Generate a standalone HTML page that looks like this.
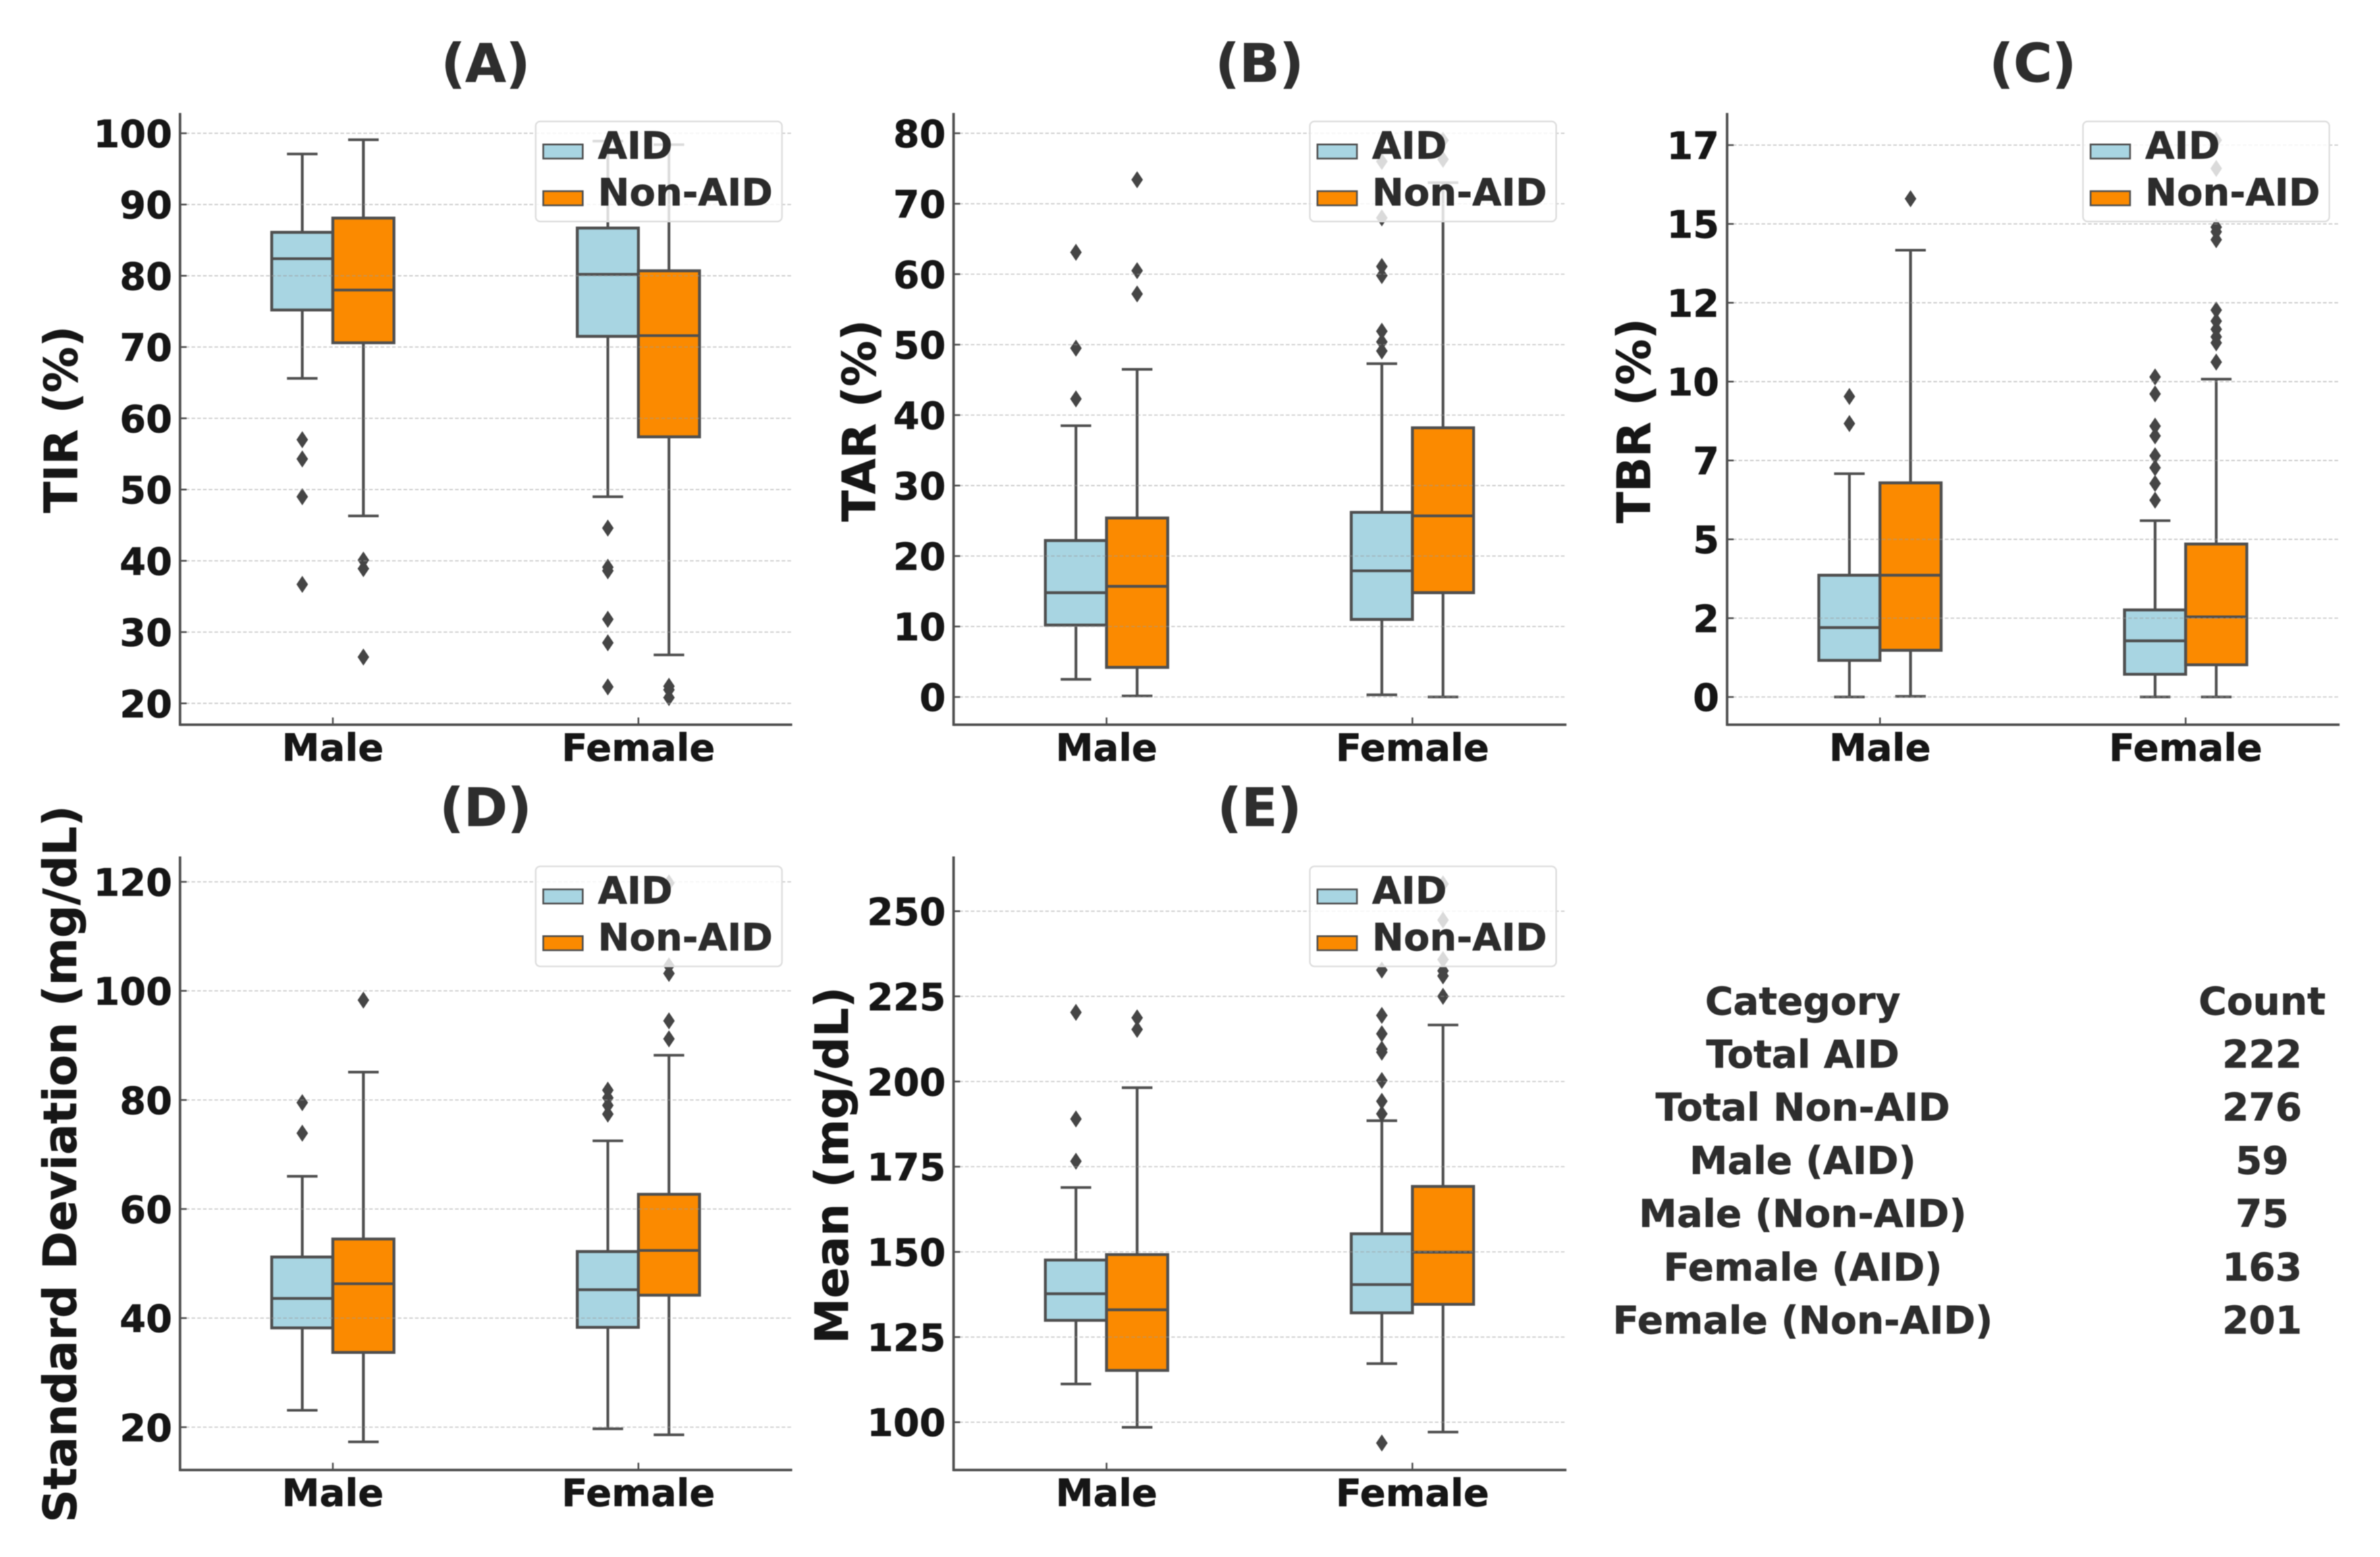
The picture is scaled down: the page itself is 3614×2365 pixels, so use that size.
<!DOCTYPE html>
<html lang="en">
<head>
<meta charset="utf-8">
<title>AID vs Non-AID glucose metrics by sex</title>
<style>
html,body{margin:0;padding:0;background:#fff;width:3614px;height:2365px;overflow:hidden}
svg{display:block;filter:blur(0.9px)}
text{font-family:"DejaVu Sans","Liberation Sans",sans-serif;font-weight:700;stroke:currentColor;stroke-width:0.7px}
</style>
</head>
<body>
<svg id="figure" xmlns="http://www.w3.org/2000/svg" width="3614" height="2365" viewBox="0 0 3614 2365">
  <rect x="0" y="0" width="3614" height="2365" fill="#ffffff"/>
  <g id="panels"></g>
  <g font-size="58" fill="#2d2d2d" color="#2d2d2d" text-anchor="middle">
    <text x="2737.5" y="1541">Category</text>
    <text x="3435" y="1541">Count</text>
    <text x="2737.5" y="1621.5">Total AID</text>
    <text x="3435" y="1621.5">222</text>
    <text x="2737.5" y="1702">Total Non-AID</text>
    <text x="3435" y="1702">276</text>
    <text x="2737.5" y="1783">Male (AID)</text>
    <text x="3435" y="1783">59</text>
    <text x="2737.5" y="1863.5">Male (Non-AID)</text>
    <text x="3435" y="1863.5">75</text>
    <text x="2737.5" y="1945">Female (AID)</text>
    <text x="3435" y="1945">163</text>
    <text x="2737.5" y="2025.5">Female (Non-AID)</text>
    <text x="3435" y="2025.5">201</text>
  </g>
</svg>
<script>
// Shared categories. Each series array below runs: Male AID, Male Non-AID, Female AID, Female Non-AID.
const categories = ['Male', 'Female'];
const seriesNames = ['AID', 'Non-AID'];

// (A) TIR
const tirTickValues = [20, 30, 40, 50, 60, 70, 80, 90, 100];
const tirTickLabels = ['20', '30', '40', '50', '60', '70', '80', '90', '100'];
const tirWhiskerLow = [65.6, 46.3, 49, 26.8];
const tirQ1 = [75.2, 70.6, 71.5, 57.4];
const tirMedian = [82.4, 78, 80.2, 71.6];
const tirQ3 = [86.1, 88.1, 86.7, 80.7];
const tirWhiskerHigh = [97.1, 99.1, 98.9, 98.4];
const tirOutliers = [[57, 54.3, 49, 36.7], [40.1, 38.9, 26.5], [44.6, 39.1, 38.6, 31.8, 28.5, 22.3], [22.4, 21.9, 20.8]];

// (B) TAR
const tarTickValues = [0, 10, 20, 30, 40, 50, 60, 70, 80];
const tarTickLabels = ['0', '10', '20', '30', '40', '50', '60', '70', '80'];
const tarWhiskerLow = [2.5, 0.14, 0.3, 0];
const tarQ1 = [10.2, 4.2, 11, 14.8];
const tarMedian = [14.8, 15.7, 17.9, 25.7];
const tarQ3 = [22.2, 25.4, 26.2, 38.2];
const tarWhiskerHigh = [38.5, 46.5, 47.3, 73];
const tarOutliers = [[42.3, 49.5, 63.1], [57.2, 60.5, 73.4], [49.1, 50.4, 51.9, 59.8, 61.1, 68, 76], [76.3, 79]];

// (C) TBR
const tbrTickValues = [0, 2.5, 5, 7.5, 10, 12.5, 15, 17.5];
const tbrTickLabels = ['0', '2', '5', '7', '10', '12', '15', '17'];
const tbrWhiskerLow = [0, 0.02, 0, 0];
const tbrQ1 = [1.16, 1.48, 0.72, 1.02];
const tbrMedian = [2.2, 3.86, 1.78, 2.54];
const tbrQ3 = [3.86, 6.79, 2.76, 4.85];
const tbrWhiskerHigh = [7.08, 14.17, 5.59, 10.08];
const tbrOutliers = [[8.67, 9.53], [15.8], [6.24, 6.77, 7.27, 7.65, 8.28, 8.59, 9.61, 10.15], [10.62, 11.23, 11.42, 11.66, 11.92, 12.27, 14.5, 14.75, 14.9, 16.76, 17.66]];

// (D) Standard deviation
const sdTickValues = [20, 40, 60, 80, 100, 120];
const sdTickLabels = ['20', '40', '60', '80', '100', '120'];
const sdWhiskerLow = [23.1, 17.3, 19.7, 18.6];
const sdQ1 = [38.2, 33.7, 38.3, 44.2];
const sdMedian = [43.6, 46.3, 45.2, 52.4];
const sdQ3 = [51.2, 54.5, 52.2, 62.7];
const sdWhiskerHigh = [66, 85.1, 72.5, 88.2];
const sdOutliers = [[73.9, 79.5], [98.3], [77.4, 79, 80.4, 81.8], [91.2, 94.5, 103.2, 104.6, 119.8]];

// (E) Mean
const meanTickValues = [100, 125, 150, 175, 200, 225, 250];
const meanTickLabels = ['100', '125', '150', '175', '200', '225', '250'];
const meanWhiskerLow = [111.2, 98.5, 117.2, 97.1];
const meanQ1 = [129.9, 115.2, 132.1, 134.6];
const meanMedian = [137.7, 133, 140.4, 149.9];
const meanQ3 = [147.6, 149.2, 155.3, 169.2];
const meanWhiskerHigh = [168.9, 198.2, 188.5, 216.6];
const meanOutliers = [[176.6, 189, 220.3], [215.3, 218.7], [93.9, 190.5, 194.2, 200.3, 208.6, 209.5, 214, 219.4, 232.7], [225, 231, 232.5, 235.8, 247.4, 258]];

const SVG_NS = 'http://www.w3.org/2000/svg';
const EDGE = '#4f4f4f';
const FILLS = ['#a8d5e2', '#fb8a00'];

function make(tag, attrs, parent, content) {
  const node = document.createElementNS(SVG_NS, tag);
  for (const key in attrs) node.setAttribute(key, attrs[key]);
  if (content !== undefined) node.textContent = content;
  parent.appendChild(node);
  return node;
}

function drawPanel(cfg) {
  const root = document.getElementById('panels');
  const g = make('g', {}, root);
  
  

  const yScale = v => cfg.bottom - (v - cfg.yMin) / (cfg.yMax - cfg.yMin) * (cfg.bottom - cfg.top);
  const xScale = u => cfg.left + (u + 0.5) / 2 * (cfg.right - cfg.left);
  const axisEnd = cfg.right + 1.6;
  const boxWidth = 0.2;
  const capHalf = 0.05;

  // boxes, whiskers, caps, medians, outliers
  for (let c = 0; c < categories.length; c++) {
    for (let s = 0; s < seriesNames.length; s++) {
      const idx = c * seriesNames.length + s;
      const id = categories[c].toLowerCase() + '-' + seriesNames[s].toLowerCase();
      const cx = xScale(c + (s === 0 ? -boxWidth / 2 : boxWidth / 2));
      const q1 = yScale(cfg.q1[idx]);
      const q3 = yScale(cfg.q3[idx]);

      const low = make('line', {x1: cx, x2: cx, y1: q1, y2: yScale(cfg.low[idx]), stroke: EDGE, 'stroke-width': 4.2}, g);
      
      

      const high = make('line', {x1: cx, x2: cx, y1: q3, y2: yScale(cfg.high[idx]), stroke: EDGE, 'stroke-width': 4.2}, g);
      
      

      const capLow = make('line', {x1: xScale(c + (s === 0 ? -boxWidth / 2 : boxWidth / 2) - capHalf), x2: xScale(c + (s === 0 ? -boxWidth / 2 : boxWidth / 2) + capHalf), y1: yScale(cfg.low[idx]), y2: yScale(cfg.low[idx]), stroke: EDGE, 'stroke-width': 4}, g);
      
      

      const capHigh = make('line', {x1: xScale(c + (s === 0 ? -boxWidth / 2 : boxWidth / 2) - capHalf), x2: xScale(c + (s === 0 ? -boxWidth / 2 : boxWidth / 2) + capHalf), y1: yScale(cfg.high[idx]), y2: yScale(cfg.high[idx]), stroke: EDGE, 'stroke-width': 4}, g);
      
      

      const box = make('rect', {x: xScale(c + (s === 0 ? -boxWidth : 0)), y: q3, width: xScale(boxWidth) - xScale(0), height: q1 - q3, fill: FILLS[s], stroke: EDGE, 'stroke-width': 4.4}, g);
      
      

      const median = make('line', {x1: xScale(c + (s === 0 ? -boxWidth : 0)), x2: xScale(c + (s === 0 ? 0 : boxWidth)), y1: yScale(cfg.median[idx]), y2: yScale(cfg.median[idx]), stroke: EDGE, 'stroke-width': 4.2}, g);
      
      

      cfg.outliers[idx].forEach(v => {
        const py = yScale(v);
        const flier = make('polygon', {points: (cx - 8.8) + ',' + py + ' ' + cx + ',' + (py - 13) + ' ' + (cx + 8.8) + ',' + py + ' ' + cx + ',' + (py + 13), fill: '#454545'}, g);
        
        
      });
    }
  }

  // gridlines and y axis ticks
  cfg.tickValues.forEach((v, i) => {
    const py = yScale(v);
    const grid = make('line', {x1: cfg.left, x2: axisEnd, y1: py, y2: py, stroke: '#9a9a9a', 'stroke-opacity': 0.5, 'stroke-width': 1.8, 'stroke-dasharray': '5.5 3.2'}, g);
    
    

    const tick = make('line', {x1: cfg.left, x2: cfg.left + 10, y1: py, y2: py, stroke: EDGE, 'stroke-width': 2.6}, g);
    
    

    const label = make('text', {x: cfg.left - 12, y: py + 21, 'font-size': 57.2, fill: '#161616', color: '#161616', 'text-anchor': 'end'}, g, cfg.tickLabels[i]);
    
    
  });

  // x axis ticks and labels
  categories.forEach((name, c) => {
    const px = xScale(c);
    const tick = make('line', {x1: px, x2: px, y1: cfg.bottom, y2: cfg.bottom - 11, stroke: EDGE, 'stroke-width': 2.6}, g);
    
    

    const label = make('text', {x: px, y: cfg.bottom + 54.5, 'font-size': 57.4, fill: '#161616', color: '#161616', 'text-anchor': 'middle'}, g, name);
    
    
  });

  // spines
  const spineLeft = make('line', {x1: cfg.left, x2: cfg.left, y1: cfg.top, y2: cfg.bottom + 1.8, stroke: EDGE, 'stroke-width': 3.8}, g);
  
  

  const spineBottom = make('line', {x1: cfg.left, x2: axisEnd, y1: cfg.bottom, y2: cfg.bottom, stroke: EDGE, 'stroke-width': 3.8}, g);
  
  

  // title and y axis title
  const title = make('text', {x: (cfg.left + cfg.right) / 2, y: cfg.titleY, 'font-size': 80, fill: '#2e2e2e', color: '#2e2e2e', 'text-anchor': 'middle'}, g, cfg.title);
  
  

  const yTitle = make('text', {x: cfg.yTitleX, y: cfg.yTitleY, 'font-size': 69.5, fill: '#161616', color: '#161616', 'text-anchor': 'middle', transform: 'rotate(-90 ' + cfg.yTitleX + ' ' + cfg.yTitleY + ')'}, g, cfg.yTitle);
  
  

  // legend
  const lx = cfg.right - 388;
  const ly = cfg.top + cfg.legendOffset;
  const legend = make('g', {}, g);
  
  

  const frame = make('rect', {x: lx, y: ly, width: 374, height: 152, rx: 7, ry: 7, fill: '#ffffff', 'fill-opacity': 0.8, stroke: '#dddddd', 'stroke-width': 2.4}, legend);
  
  

  seriesNames.forEach((name, s) => {
    const patch = make('rect', {x: lx + 11.5, y: ly + 35 + s * 71, width: 60, height: 21.5, fill: FILLS[s], stroke: EDGE, 'stroke-width': 2.6}, legend);
    
    

    const text = make('text', {x: lx + 94.5, y: ly + 56.7 + s * 71, 'font-size': 57.4, fill: '#2c2c2c', color: '#2c2c2c'}, legend, name);
    
    
  });
}

drawPanel({key: 'tir', title: '(A)', yTitle: 'TIR (%)', left: 273.4, right: 1201.4, top: 171.6, bottom: 1100.8, yMin: 17.0, yMax: 102.85, titleY: 124, yTitleX: 117, yTitleY: 637, legendOffset: 12.8, tickValues: tirTickValues, tickLabels: tirTickLabels, low: tirWhiskerLow, q1: tirQ1, median: tirMedian, q3: tirQ3, high: tirWhiskerHigh, outliers: tirOutliers});
drawPanel({key: 'tar', title: '(B)', yTitle: 'TAR (%)', left: 1448, right: 2377, top: 171.6, bottom: 1100.8, yMin: -3.94, yMax: 82.88, titleY: 124, yTitleX: 1329, yTitleY: 639, legendOffset: 12.8, tickValues: tarTickValues, tickLabels: tarTickLabels, low: tarWhiskerLow, q1: tarQ1, median: tarMedian, q3: tarQ3, high: tarWhiskerHigh, outliers: tarOutliers});
drawPanel({key: 'tbr', title: '(C)', yTitle: 'TBR (%)', left: 2622.6, right: 3551, top: 171.6, bottom: 1100.8, yMin: -0.88, yMax: 18.52, titleY: 124, yTitleX: 2505.5, yTitleY: 639, legendOffset: 12.8, tickValues: tbrTickValues, tickLabels: tbrTickLabels, low: tbrWhiskerLow, q1: tbrQ1, median: tbrMedian, q3: tbrQ3, high: tbrWhiskerHigh, outliers: tbrOutliers});
drawPanel({key: 'sd', title: '(D)', yTitle: 'Standard Deviation (mg/dL)', left: 273.4, right: 1201.4, top: 1300.9, bottom: 2232.8, yMin: 12.15, yMax: 124.65, titleY: 1254.5, yTitleX: 115.6, yTitleY: 1768, legendOffset: 15, tickValues: sdTickValues, tickLabels: sdTickLabels, low: sdWhiskerLow, q1: sdQ1, median: sdMedian, q3: sdQ3, high: sdWhiskerHigh, outliers: sdOutliers});
drawPanel({key: 'mean', title: '(E)', yTitle: 'Mean (mg/dL)', left: 1448, right: 2377, top: 1300.9, bottom: 2232.8, yMin: 85.98, yMax: 266.06, titleY: 1254.5, yTitleX: 1287.6, yTitleY: 1770, legendOffset: 15, tickValues: meanTickValues, tickLabels: meanTickLabels, low: meanWhiskerLow, q1: meanQ1, median: meanMedian, q3: meanQ3, high: meanWhiskerHigh, outliers: meanOutliers});
</script>
</body>
</html>
